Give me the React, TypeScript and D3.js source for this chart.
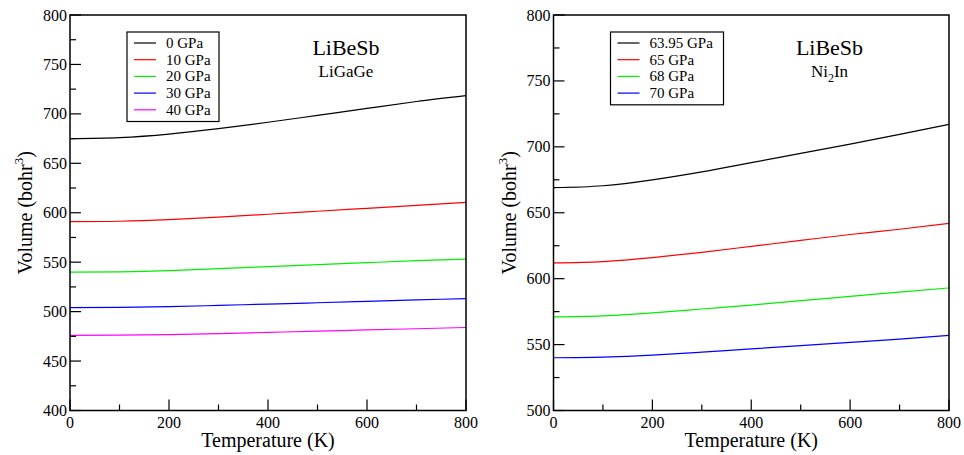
import React from "react";
import * as d3 from "d3";

const temps = [0, 100, 200, 300, 400, 500, 600, 700, 800];

const leftLabels = ["0 GPa", "10 GPa", "20 GPa", "30 GPa", "40 GPa"];
const leftColors = ["#000000", "#ff0000", "#00ee00", "#0000ff", "#ff00ff"];
const left0 = [675, 676, 679.5, 685, 691.5, 698.5, 705.5, 712.5, 718.5];
const left10 = [591, 591.4, 593, 595.5, 598.5, 601.5, 604.5, 607.5, 610.5];
const left20 = [540, 540.3, 541.5, 543.5, 545.5, 547.5, 549.5, 551.5, 553];
const left30 = [504, 504.2, 505, 506.3, 507.6, 509, 510.4, 511.8, 513.2];
const left40 = [476, 476.2, 476.8, 477.8, 479, 480.2, 481.5, 482.7, 484];

const rightLabels = ["63.95 GPa", "65 GPa", "68 GPa", "70 GPa"];
const rightColors = ["#000000", "#ff0000", "#00ee00", "#0000ff"];
const right6395 = [669, 670.5, 675, 681, 688, 695, 702, 709.5, 717];
const right65 = [612, 613, 616, 620, 624.5, 629, 633.5, 637.5, 642];
const right68 = [571, 571.8, 574, 577, 580, 583.3, 586.5, 589.8, 593];
const right70 = [540, 540.5, 542, 544.3, 546.7, 549.2, 551.7, 554.2, 557];

const xTicks = [0, 200, 400, 600, 800];
const xMinor = [100, 300, 500, 700];

const FONT = "Liberation Serif, Times New Roman, Times, serif";

type PanelProps = {
  x0: number;
  x1: number;
  yDomain: [number, number];
  series: number[][];
  labels: string[];
  colors: string[];
  legendW: number;
  subtitle: React.ReactNode;
};

function Panel({ x0, x1, yDomain, series, labels, colors, legendW, subtitle }: PanelProps) {
  const top = 15;
  const bottom = 410.5;
  const x = d3.scaleLinear().domain([0, 800]).range([x0, x1]);
  const y = d3.scaleLinear().domain(yDomain).range([bottom, top]);
  const line = d3
    .line<number>()
    .x((_, i) => x(temps[i]))
    .y((d) => y(d))
    .curve(d3.curveNatural);
  const yMajor = d3.range(yDomain[0], yDomain[1] + 1, 50);
  const yMinor = d3.range(yDomain[0] + 25, yDomain[1], 50);
  const lx = x0 + 57;
  const ly = 32;
  const cx = x0 + 276;
  const midY = (top + bottom) / 2;
  return (
    <g>
      {series.map((s, i) => (
        <path key={i} d={line(s) || ""} fill="none" stroke={colors[i]} strokeWidth={1.2} />
      ))}
      <rect x={x0} y={top} width={x1 - x0} height={bottom - top} fill="none" stroke="#000" strokeWidth={1.5} />
      {yMajor.map((v) => (
        <g key={"ym" + v}>
          <line x1={x0} x2={x0 + 11} y1={y(v)} y2={y(v)} stroke="#000" strokeWidth={1.2} />
          <text x={x0 - 3} y={y(v) + 5.5} textAnchor="end" fontSize={16}>
            {v}
          </text>
        </g>
      ))}
      {yMinor.map((v) => (
        <line key={"yn" + v} x1={x0} x2={x0 + 6} y1={y(v)} y2={y(v)} stroke="#000" strokeWidth={1.2} />
      ))}
      {xTicks.map((v) => (
        <g key={"xm" + v}>
          <line x1={x(v)} x2={x(v)} y1={bottom} y2={bottom - 11} stroke="#000" strokeWidth={1.2} />
          <text x={x(v)} y={bottom + 17} textAnchor="middle" fontSize={16}>
            {v}
          </text>
        </g>
      ))}
      {xMinor.map((v) => (
        <line key={"xn" + v} x1={x(v)} x2={x(v)} y1={bottom} y2={bottom - 6} stroke="#000" strokeWidth={1.2} />
      ))}
      <text x={(x0 + x1) / 2} y={447} textAnchor="middle" fontSize={20}>
        Temperature (K)
      </text>
      <text transform={`translate(${x0 - 38},${midY}) rotate(-90)`} textAnchor="middle" fontSize={20}>
        Volume (bohr
        <tspan dy={-9} fontSize={13}>3</tspan>
        <tspan dy={9}>)</tspan>
      </text>
      <rect x={lx} y={ly} width={legendW} height={labels.length * 16.7 + 6} fill="#fff" stroke="#000" strokeWidth={1.2} />
      {labels.map((l, i) => (
        <g key={l}>
          <line x1={lx + 7} x2={lx + 29} y1={ly + 11 + i * 16.7} y2={ly + 11 + i * 16.7} stroke={colors[i]} strokeWidth={1.2} />
          <text x={lx + 39} y={ly + 16 + i * 16.7} fontSize={15}>
            {l}
          </text>
        </g>
      ))}
      <text x={cx} y={55} textAnchor="middle" fontSize={22}>
        LiBeSb
      </text>
      <text x={cx} y={77} textAnchor="middle" fontSize={17}>
        {subtitle}
      </text>
    </g>
  );
}

export default function App() {
  return (
    <svg
      width={964}
      height={455}
      style={{ position: "absolute", left: 0, top: 0, background: "#fff", fontFamily: FONT }}
    >
      <rect width={964} height={455} fill="#fff" />
      <Panel
        x0={70}
        x1={466}
        yDomain={[400, 800]}
        series={[left0, left10, left20, left30, left40]}
        labels={leftLabels}
        colors={leftColors}
        legendW={92}
        subtitle={"LiGaGe"}
      />
      <Panel
        x0={553.5}
        x1={949}
        yDomain={[500, 800]}
        series={[right6395, right65, right68, right70]}
        labels={rightLabels}
        colors={rightColors}
        legendW={113}
        subtitle={
          <>
            Ni<tspan dy={5} fontSize={12}>2</tspan>
            <tspan dy={-5}>In</tspan>
          </>
        }
      />
    </svg>
  );
}
